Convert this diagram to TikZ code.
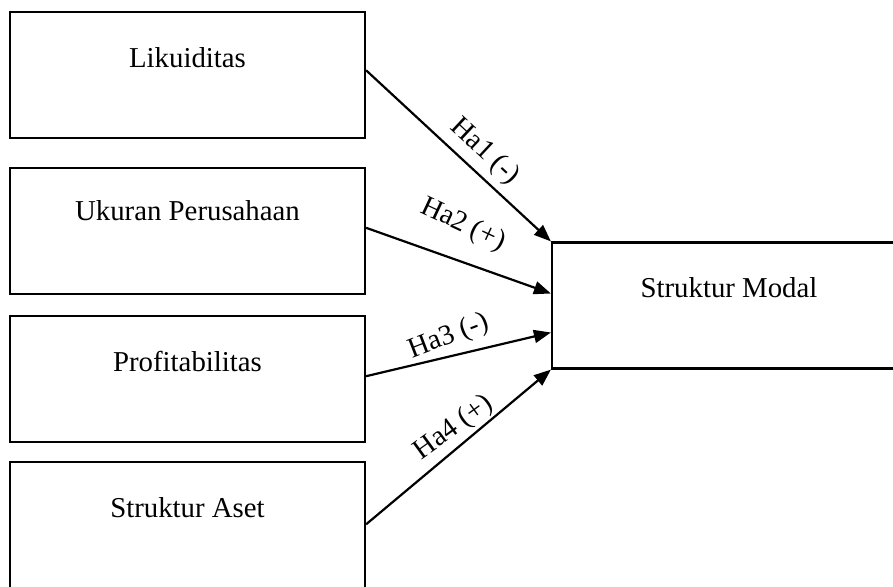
\documentclass[tikz,border=0pt]{standalone}
\usepackage{fontspec}
\setmainfont{Liberation Serif}
\usetikzlibrary{arrows.meta,calc}
\begin{document}
\begin{tikzpicture}[x=1pt,y=-1pt,
  box/.style={draw,line width=2.2pt,minimum width=355pt,minimum height=126pt,inner sep=0pt},
  txt/.style={font=\fontsize{28.8}{34}\selectfont,anchor=base,inner sep=0pt},
  lab/.style={font=\fontsize{28.6}{34}\selectfont,inner sep=0pt},
  arr/.style={line width=2.2pt,-{Triangle[length=17pt,width=13pt]}}]
\useasboundingbox (0,0) rectangle (893,586);
\fill[white] (0,0) rectangle (893,586);
\clip (0,0) rectangle (893,586);
% left boxes
\node[box] (b1) at (187.5,75.3) {};
\node[txt] (t1) at ($(b1.north)+(0,56)$) {Likuiditas};
\node[box] (b2) at (187.5,230.8) {};
\node[txt] (t2) at ($(b2.north)+(0,54)$) {Ukuran Perusahaan};
\node[box] (b3) at (187.5,379.2) {};
\node[txt] (t3) at ($(b3.north)+(0,56)$) {Profitabilitas};
\node[box] (b4) at (187.5,525.3) {};
\node[txt] (t4) at ($(b4.north)+(0,56)$) {Struktur Aset};
% right box
\node[box,minimum width=354pt] (m) at (729,305.5) {};
\node[txt] (tm) at ($(m.north)+(0,56)$) {Struktur Modal};
% arrows
\draw[arr] ($(b1.east)+(0,-5)$) -- (m.north west);
\draw[arr] ($(b2.east)+(0,-3)$) -- ($(m.west)+(0,-12)$);
\draw[arr] ($(b3.east)+(0,-3)$) -- ($(m.west)+(0,27)$);
\draw[arr] ($(b4.east)+(0,-1)$) -- (m.south west);
% labels
\node[lab,rotate=-43] (h1) at (485,152) {Ha1 (-)};
\node[lab,rotate=-25] (h2) at (463,225) {Ha2 (+)};
\node[lab,rotate=21] (h3) at (449,337) {Ha3 (-)};
\node[lab,rotate=36] (h4) at (454,428) {Ha4 (+)};
\end{tikzpicture}
\end{document}
